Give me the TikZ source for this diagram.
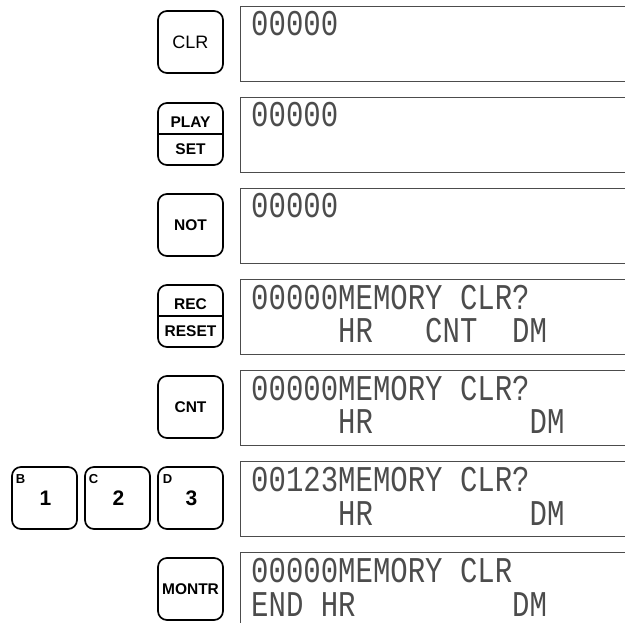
\documentclass[tikz,border=0pt]{standalone}
\usepackage{fontspec}
\newfontfamily\keyfont{Liberation Sans}
\newfontfamily\lcdfont{Liberation Mono}
\newcommand{\lcdrow}[1]{\scalebox{1}[1.25]{#1}}

\begin{document}
\begin{tikzpicture}[
  x=1pt, y=-1pt,
  key/.style={draw, line width=1.7pt, rounded corners=9pt, minimum width=65pt,
              minimum height=62pt, inner sep=0pt},
  disp/.style={draw=black!70, line width=1.3pt, anchor=north west,
               minimum width=420pt, minimum height=75pt, inner sep=0pt},
  lbl/.style={font=\keyfont\bfseries\fontsize{15.5}{16}\selectfont, inner sep=0pt},
  sub/.style={font=\keyfont\bfseries\fontsize{13}{14}\selectfont, inner sep=0pt},
  num/.style={font=\keyfont\bfseries\fontsize{21}{22}\selectfont, inner sep=0pt},
  lcd/.style={font=\lcdfont\fontsize{29}{30}\selectfont, text=black!70,
              anchor=base west, inner sep=0pt}
]
\clip (0,0) rectangle (625,623);
% keys
\node[key, font=\keyfont\fontsize{18}{20}\selectfont] (clr) at (190.5,42) {CLR};
\node[key] (play) at (190.5,134) {};
\draw[line width=1.3pt] (play.west) -- (play.east);
\node[lbl] (playtop) at (190.5,122.5) {PLAY};
\node[lbl] (playbot) at (190.5,149) {SET};
\node[key, lbl] (not) at (190.5,225) {NOT};
\node[key] (rec) at (190.5,316) {};
\draw[line width=1.3pt] (rec.west) -- (rec.east);
\node[lbl] (rectop) at (190.5,304.5) {REC};
\node[lbl] (recbot) at (190.5,331) {RESET};
\node[key, lbl] (cnt) at (190.5,407) {CNT};
\node[key] (k1) at (44.5,498) {};
\node[sub] (k1sub) at (20.5,479) {B};
\node[num] (k1num) at (45.5,498) {1};
\node[key] (k2) at (117.5,498) {};
\node[sub] (k2sub) at (93.5,479) {C};
\node[num] (k2num) at (118.5,498) {2};
\node[key] (k3) at (190.5,498) {};
\node[sub] (k3sub) at (167.5,479) {D};
\node[num] (k3num) at (191.5,498) {3};
\node[key, lbl] (montr) at (190.5,589) {MONTR};
% displays
\node[disp] (d1) at (240,6) {};
\node[lcd] (d1a) at (251,36) {\lcdrow{00000}};
\node[disp] (d2) at (240,97) {};
\node[lcd] (d2a) at (251,127) {\lcdrow{00000}};
\node[disp] (d3) at (240,188) {};
\node[lcd] (d3a) at (251,218) {\lcdrow{00000}};
\node[disp] (d4) at (240,279) {};
\node[lcd] (d4a) at (251,309.5) {\lcdrow{00000MEMORY~CLR?}};
\node[lcd] (d4b) at (251,343) {\lcdrow{~~~~~HR~~~CNT~~DM}};
\node[disp] (d5) at (240,370) {};
\node[lcd] (d5a) at (251,400.5) {\lcdrow{00000MEMORY~CLR?}};
\node[lcd] (d5b) at (251,434) {\lcdrow{~~~~~HR~~~~~~~~~DM}};
\node[disp] (d6) at (240,461) {};
\node[lcd] (d6a) at (251,491.5) {\lcdrow{00123MEMORY~CLR?}};
\node[lcd] (d6b) at (251,525) {\lcdrow{~~~~~HR~~~~~~~~~DM}};
\node[disp] (d7) at (240,552) {};
\node[lcd] (d7a) at (251,582.5) {\lcdrow{00000MEMORY~CLR}};
\node[lcd] (d7b) at (251,616) {\lcdrow{END~HR~~~~~~~~~DM}};
\end{tikzpicture}
\end{document}
